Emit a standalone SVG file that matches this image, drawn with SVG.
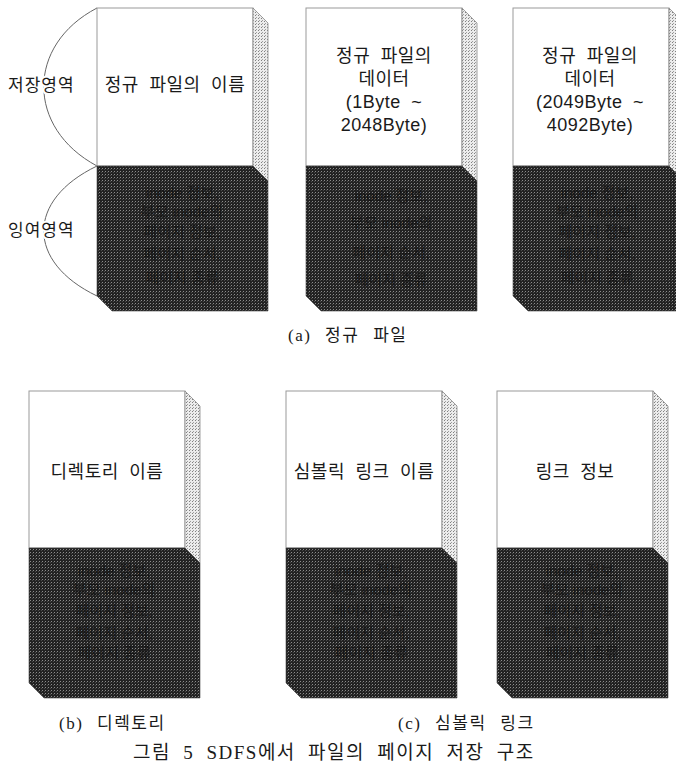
<svg xmlns="http://www.w3.org/2000/svg" width="676" height="775" viewBox="0 0 676 775">
<defs>
<pattern id="dk" width="3" height="3" patternUnits="userSpaceOnUse">
<rect width="3" height="3" fill="#222"/>
<rect x="0" y="0" width="1" height="1" fill="#8c8c8c"/>
<rect x="2" y="1" width="1" height="1" fill="#4a4a4a"/>
</pattern>
<pattern id="lt" width="3" height="3" patternUnits="userSpaceOnUse">
<rect width="3" height="3" fill="#ececec"/>
<rect x="0" y="0" width="1" height="1" fill="#808080"/>
<rect x="1" y="2" width="1" height="1" fill="#a0a0a0"/>
</pattern>
</defs>
<style>
.front{fill:#fff;stroke:#9a9a9a;stroke-width:1}
.side{fill:url(#lt);stroke:#8a8a8a;stroke-width:0.8}
.dark{fill:url(#dk);stroke:#444;stroke-width:0.6}
.t{font-family:"Liberation Sans","Noto Sans CJK KR",sans-serif;font-size:18px;fill:#1a1a1a;text-anchor:middle;letter-spacing:0.5px;word-spacing:5px}
.d{font-family:"Liberation Sans","Noto Sans CJK KR",sans-serif;font-size:15px;fill:#0a0a0a;text-anchor:middle;opacity:0.55}
.lab{font-family:"Liberation Sans","Noto Sans CJK KR",sans-serif;font-size:17px;fill:#1a1a1a;letter-spacing:1px;paint-order:stroke;stroke:#fff;stroke-width:4px}
.cap{font-family:"Liberation Serif","Noto Sans CJK KR",serif;font-size:17px;fill:#1a1a1a;letter-spacing:1.5px;word-spacing:8px}
.arc{fill:none;stroke:#666;stroke-width:1}
</style>

<g id="labels">
<path class="arc" d="M97,8 C26,45 26,128 97,166"/>
<path class="arc" d="M97,166 C26,200 26,262 97,296"/>
<text class="lab" x="8" y="91">저장영역</text>
<text class="lab" x="8" y="236">잉여영역</text>
</g>

<g id="connectors"></g>

<g id="reg-name">
<rect class="front" x="97" y="8" width="156" height="158"/>
<polygon class="side" points="253,8 268,23 268,181 253,166"/>
<polygon class="dark" points="97,166 253,166 268,181 268,311 112,311 97,296"/>
<text class="t" x="175" y="91">정규 파일의 이름</text>
<g class="d"><text x="182" y="198">inode 정보,</text><text x="182" y="217">부모 inode의</text><text x="182" y="237">페이지 정보,</text><text x="182" y="259">페이지 순서,</text><text x="182" y="283">페이지 종류</text></g>
</g>

<g id="reg-data1">
<rect class="front" x="306" y="8" width="156" height="158"/>
<polygon class="side" points="462,8 477,23 477,181 462,166"/>
<polygon class="dark" points="306,166 462,166 477,181 477,311 321,311 306,296"/>
<text class="t" x="384" y="62">정규 파일의</text>
<text class="t" x="384" y="85">데이터</text>
<text class="t" x="384" y="108">(1Byte ~</text>
<text class="t" x="384" y="131">2048Byte)</text>
<g class="d"><text x="391" y="201">inode 정보,</text><text x="391" y="228">부모 inode의</text><text x="391" y="258">페이지 순서,</text><text x="391" y="285">페이지 종류</text></g>
</g>

<g id="reg-data2">
<rect class="front" x="513" y="8" width="156" height="158"/>
<polygon class="side" points="669,8 684,23 684,181 669,166"/>
<polygon class="dark" points="513,166 669,166 684,181 684,311 528,311 513,296"/>
<text class="t" x="590" y="62">정규 파일의</text>
<text class="t" x="590" y="85">데이터</text>
<text class="t" x="590" y="108">(2049Byte ~</text>
<text class="t" x="590" y="131">4092Byte)</text>
<g class="d"><text x="597" y="198">inode 정보,</text><text x="597" y="217">부모 inode의</text><text x="597" y="237">페이지 정보,</text><text x="597" y="259">페이지 순서,</text><text x="597" y="283">페이지 종류</text></g>
</g>

<text class="cap" x="288" y="341">(a) 정규 파일</text>

<g id="dir-name">
<rect class="front" x="29" y="391" width="156" height="157"/>
<polygon class="side" points="185,391 200,406 200,563 185,548"/>
<polygon class="dark" points="29,548 185,548 200,563 200,698 44,698 29,683"/>
<text class="t" x="107" y="478">디렉토리 이름</text>
<g class="d"><text x="114" y="576">inode 정보,</text><text x="114" y="595">부모 inode의</text><text x="114" y="616">페이지 정보,</text><text x="114" y="638">페이지 순서,</text><text x="114" y="658">페이지 종류</text></g>
</g>

<g id="sym-name">
<rect class="front" x="286" y="391" width="156" height="157"/>
<polygon class="side" points="442,391 457,406 457,563 442,548"/>
<polygon class="dark" points="286,548 442,548 457,563 457,698 301,698 286,683"/>
<text class="t" x="364" y="478">심볼릭 링크 이름</text>
<g class="d"><text x="371" y="576">inode 정보,</text><text x="371" y="595">부모 inode의</text><text x="371" y="616">페이지 정보,</text><text x="371" y="638">페이지 순서,</text><text x="371" y="658">페이지 종류</text></g>
</g>

<g id="sym-info">
<rect class="front" x="497" y="391" width="156" height="157"/>
<polygon class="side" points="653,391 668,406 668,563 653,548"/>
<polygon class="dark" points="497,548 653,548 668,563 668,698 512,698 497,683"/>
<text class="t" x="575" y="478">링크 정보</text>
<g class="d"><text x="582" y="576">inode 정보,</text><text x="582" y="595">부모 inode의</text><text x="582" y="616">페이지 정보,</text><text x="582" y="638">페이지 순서,</text><text x="582" y="658">페이지 종류</text></g>
</g>

<text class="cap" x="59" y="729">(b) 디렉토리</text>
<text class="cap" x="398" y="729">(c) 심볼릭 링크</text>
<text class="cap" x="133" y="759" style="font-size:19px;word-spacing:6px">그림 5 SDFS에서 파일의 페이지 저장 구조</text>
</svg>
